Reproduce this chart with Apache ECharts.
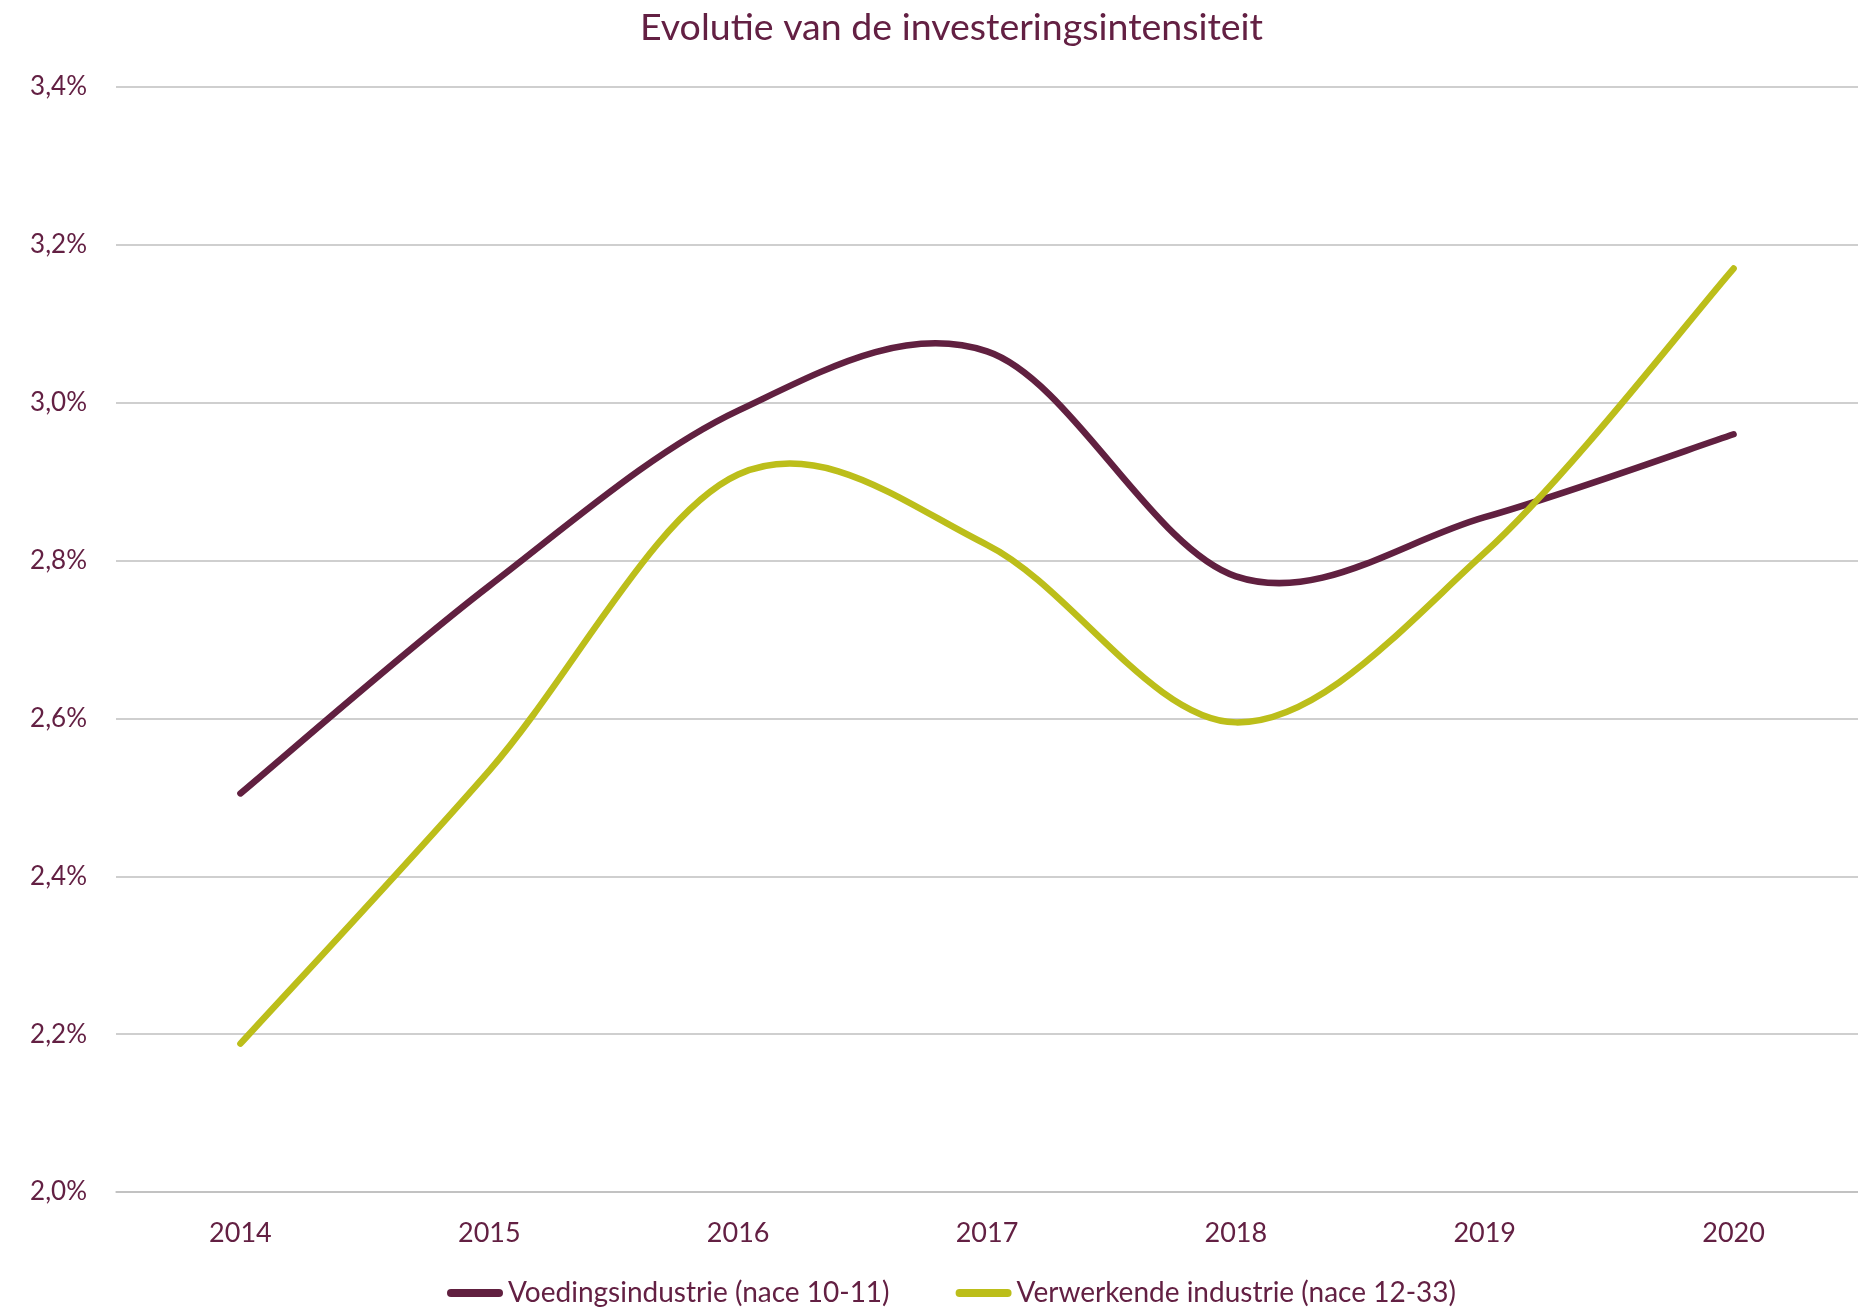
<!DOCTYPE html>
<html>
<head>
<meta charset="utf-8">
<script src="https://cdn.jsdelivr.net/npm/echarts@6/dist/echarts.min.js"></script>
<style>
html,body{margin:0;padding:0;background:#fff;}
#chart{width:1858px;height:1311px;}
</style>
</head>
<body>
<div id="chart"></div>
<script>
const title = 'Evolutie van de investeringsintensiteit';
const categories = ['2014','2015','2016','2017','2018','2019','2020'];
const seriesNames = ['Voedingsindustrie (nace 10-11)', 'Verwerkende industrie (nace 12-33)'];
const voeding = [2.505, 2.768, 2.99, 3.065, 2.78, 2.855, 2.96];
const verwerkende = [2.188, 2.534, 2.909, 2.82, 2.595, 2.81, 3.17];
const yTicks = {min: 2.0, max: 3.4, interval: 0.2};

const textColor = '#632043';
const fontFamily = 'Lato, "Noto Sans", sans-serif';
const colors = ['#612040', '#BCBE1A'];
const legendIcon = 'path://M4,0 L52,0 A4,4 0 0 1 52,8 L4,8 A4,4 0 0 1 4,0 Z';

// Smooth (Catmull-Rom style, like spreadsheet smoothed lines) drawn through axis coordinates
function smoothRenderer(values, color) {
  return function (params, api) {
    if (params.dataIndex !== 0) return null;
    const pts = values.map((v, i) => api.coord([i, v]));
    const n = pts.length;
    const P = i => pts[Math.max(0, Math.min(n - 1, i))];
    let d = 'M' + pts[0][0] + ',' + pts[0][1];
    for (let i = 0; i < n - 1; i++) {
      const p0 = P(i - 1), p1 = P(i), p2 = P(i + 1), p3 = P(i + 2);
      const c1x = p1[0] + (p2[0] - p0[0]) / 6, c1y = p1[1] + (p2[1] - p0[1]) / 6;
      const c2x = p2[0] - (p3[0] - p1[0]) / 6, c2y = p2[1] - (p3[1] - p1[1]) / 6;
      d += ' C' + c1x + ',' + c1y + ' ' + c2x + ',' + c2y + ' ' + p2[0] + ',' + p2[1];
    }
    return {
      type: 'path',
      shape: {pathData: d},
      style: {fill: null, stroke: color, lineWidth: 6.5, lineCap: 'round', lineJoin: 'round'}
    };
  };
}

const chart = echarts.init(document.getElementById('chart'), null, {renderer: 'canvas'});
chart.setOption({
  backgroundColor: '#ffffff',
  animation: false,
  title: {
    text: title,
    left: 635,
    top: 4,
    textStyle: {color: textColor, fontFamily: fontFamily, fontSize: 37.5, fontWeight: 'normal'}
  },
  legend: {
    left: 442,
    top: 1274,
    itemWidth: 56,
    itemHeight: 8,
    itemGap: 66,
    icon: legendIcon,
    textStyle: {color: textColor, fontFamily: fontFamily, fontSize: 28},
    data: seriesNames
  },
  grid: {left: 116, top: 87, width: 1747, bottom: 119, containLabel: false},
  xAxis: {
    type: 'category',
    data: categories,
    boundaryGap: true,
    axisLine: {show: true, lineStyle: {color: '#BFBFBF', width: 1.5}},
    axisTick: {show: false},
    axisLabel: {color: textColor, fontFamily: fontFamily, fontSize: 27, margin: 28}
  },
  yAxis: {
    type: 'value',
    min: yTicks.min,
    max: yTicks.max,
    interval: yTicks.interval,
    axisLine: {show: false},
    axisTick: {show: false},
    splitLine: {show: true, lineStyle: {color: '#BFBFBF', width: 1.5}},
    axisLabel: {
      color: textColor, fontFamily: fontFamily, fontSize: 26, margin: 29,
      formatter: v => v.toFixed(1).replace('.', ',') + '%'
    }
  },
  series: [
    {
      name: seriesNames[0], type: 'custom',
      data: voeding.map((v, i) => [i, v]),
      encode: {x: 0, y: 1},
      itemStyle: {color: colors[0]},
      renderItem: smoothRenderer(voeding, colors[0])
    },
    {
      name: seriesNames[1], type: 'custom',
      data: verwerkende.map((v, i) => [i, v]),
      encode: {x: 0, y: 1},
      itemStyle: {color: colors[1]},
      renderItem: smoothRenderer(verwerkende, colors[1])
    }
  ]
});
</script>
</body>
</html>
